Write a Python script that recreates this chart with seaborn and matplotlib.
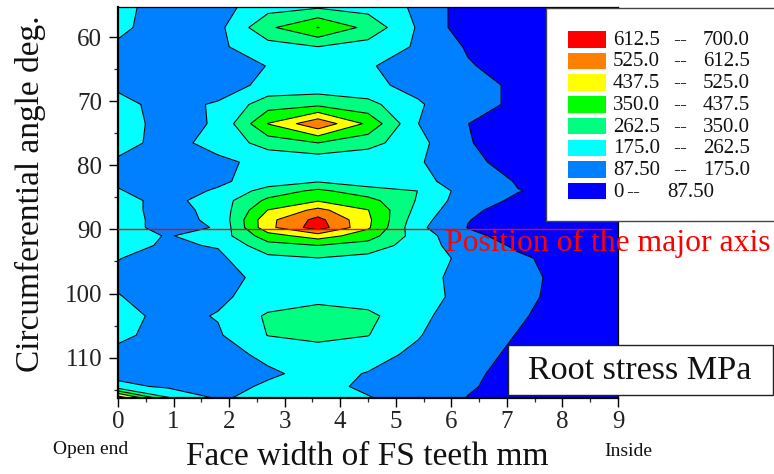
import numpy as np
import matplotlib
matplotlib.use("Agg")
import matplotlib.pyplot as plt
import seaborn as sns
from matplotlib.patches import Rectangle
from matplotlib.ticker import MultipleLocator

# ---------------- data ----------------
face_width = [0.0, 0.9, 1.8, 2.7, 3.6, 4.5, 5.4, 6.3, 7.2, 8.1, 9.0]
angle = [55.3, 58.5, 61.5, 64.5, 67.5, 70.5, 73.5, 76.5, 79.5, 82.5, 84.0,
         85.5, 87.0, 88.5, 89.7, 91.0, 92.5, 94.5, 97.5, 100.5, 103.5,
         106.5, 109.5, 112.5, 114.5, 116.3]
# root stress [MPa], one row per circumferential angle, one column per face width
stress = [
    [200, 135, 140, 230, 251, 230, 160, 39, 30, 25, 20],
    [190, 140, 150, 333, 440, 324, 165, 36, 30, 25, 20],
    [165, 125, 160, 227, 262, 227, 165, 78, 40, 30, 20],
    [140, 115, 120, 178, 210, 182, 140, 95, 50, 35, 25],
    [160, 120, 130, 200, 205, 195, 150, 110, 76, 45, 30],
    [200, 145, 185, 310, 330, 290, 185, 110, 76, 45, 30],
    [205, 150, 182, 440, 590, 419, 176, 88, 50, 35, 25],
    [200, 150, 200, 300, 350, 295, 200, 92, 50, 35, 25],
    [165, 130, 160, 195, 200, 195, 185, 105, 60, 40, 25],
    [165, 135, 160, 215, 255, 215, 190, 150, 80, 50, 30],
    [180, 140, 185, 300, 370, 300, 262, 131, 90, 65, 35],
    [200, 150, 215, 370, 430, 380, 255, 120, 75, 50, 30],
    [205, 145, 200, 440, 550, 440, 235, 100, 60, 40, 25],
    [205, 150, 190, 500, 640, 455, 210, 90, 50, 35, 25],
    [205, 150, 180, 500, 660, 450, 195, 85, 50, 35, 25],
    [210, 170, 210, 400, 480, 390, 220, 105, 60, 40, 25],
    [200, 165, 180, 320, 350, 315, 215, 130, 75, 45, 30],
    [178, 140, 160, 240, 260, 235, 205, 160, 100, 60, 35],
    [155, 125, 145, 200, 220, 210, 200, 150, 105, 70, 40],
    [180, 130, 160, 210, 224, 215, 205, 150, 105, 65, 35],
    [205, 150, 180, 275, 320, 285, 190, 140, 95, 60, 35],
    [195, 140, 165, 265, 290, 265, 180, 120, 85, 50, 30],
    [150, 130, 150, 190, 215, 200, 160, 110, 75, 45, 30],
    [145, 140, 135, 165, 195, 172, 140, 100, 65, 40, 25],
    [200, 160, 150, 185, 200, 160, 130, 95, 60, 40, 25],
    [590, 270, 165, 200, 210, 180, 140, 85, 55, 35, 25],
]
levels = [0, 87.5, 175, 262.5, 350, 437.5, 525, 612.5, 700]
level_colors = ['#0000FF', '#0080FF', '#00FFFF', '#00FF80',
                '#00FF00', '#FFFF00', '#FF8000', '#FF0000']
legend_low = ["0", "87.50", "175.0", "262.5", "350.0", "437.5", "525.0", "612.5"]
legend_high = ["87.50", "175.0", "262.5", "350.0", "437.5", "525.0", "612.5", "700.0"]
x_ticks = [0, 1, 2, 3, 4, 5, 6, 7, 8, 9]
y_ticks = [60, 70, 80, 90, 100, 110]
major_axis_angle = 90
major_axis_x = [0.0, 8.88]

# ---------------- style ----------------
sns.set_theme(style="ticks")
plt.rcParams['font.family'] = ['Liberation Serif', 'DejaVu Serif']
plt.rcParams['text.color'] = '#111111'

W, H = 774, 474
fig = plt.figure(figsize=(W / 100, H / 100), dpi=100)
fig.patch.set_facecolor('white')


def fx(px):
    return px / W


def fy(py):
    return 1 - py / H


ax_l, ax_r, ax_t, ax_b = 118, 618, 7, 398
ax = fig.add_axes([fx(ax_l), fy(ax_b), (ax_r - ax_l) / W, (ax_b - ax_t) / H])
ax.set_facecolor('white')

Z = np.array(stress, dtype=float)
ax.contourf(face_width, angle, Z, levels=levels, colors=level_colors,
            antialiased=True)
ax.contour(face_width, angle, Z, levels=levels[1:-1], colors='black',
           linewidths=0.75)

# major axis line
sns.lineplot(x=major_axis_x, y=[major_axis_angle] * 2, color='#FF0000',
             linewidth=1.0, ax=ax, legend=False, zorder=6)

ax.set_xlim(0, 9)
ax.set_ylim(116.3, 55.3)
ax.set_xticks(x_ticks)
ax.set_yticks(y_ticks)
ax.xaxis.set_minor_locator(MultipleLocator(0.5))
ax.yaxis.set_minor_locator(MultipleLocator(5))
ax.tick_params(which='major', direction='out', length=6.5, width=1.0,
               labelsize=18, colors='black')
ax.tick_params(axis='x', which='major', pad=3.2)
ax.tick_params(axis='y', which='major', pad=5.0)
ax.tick_params(which='minor', direction='out', length=3, width=0.9)
for lab in ax.get_xticklabels() + ax.get_yticklabels():
    lab.set_color('#222222')
ax.set_xlabel('')
ax.set_ylabel('')
for side in ['left', 'bottom']:
    ax.spines[side].set_linewidth(1.6)
for side in ['top', 'right']:
    ax.spines[side].set_linewidth(0.9)
for s in ax.spines.values():
    s.set_color('black')
    s.set_zorder(5)

# axis titles
fig.text(fx(30), fy(194), 'Circumferential angle deg.', rotation=90,
         ha='center', va='center', fontsize=24)
fig.text(fx(367), fy(465), 'Face width of FS teeth mm', ha='center',
         va='baseline', fontsize=24)
fig.text(fx(91), fy(449), 'Open end', ha='center', va='center', fontsize=14)
fig.text(fx(628), fy(451), 'Inside', ha='center', va='center', fontsize=14)

# red annotation
fig.text(fx(445), fy(243), 'Position of the major axis', ha='left',
         va='center', fontsize=22.8, color='#FF0000', zorder=10)

# legend box
fig.patches.append(Rectangle((fx(546), fy(221)), (790 - 546) / W, (221 - 8) / H,
                             transform=fig.transFigure, facecolor='white',
                             edgecolor='#444444', linewidth=1.0, zorder=3))
top0, step, ph = 31, 21.7, 16.5
lfs = 15
for i in range(8):
    k = 7 - i
    y_top = top0 + i * step
    fig.patches.append(Rectangle((fx(568), fy(y_top + ph)), 38 / W, ph / H,
                                 transform=fig.transFigure,
                                 facecolor=level_colors[k], edgecolor='none',
                                 zorder=4))
    yc = fy(y_top + ph / 2 + 1)
    if k == 0:
        dash_x, high_x = 626, 667
    else:
        dash_x, high_x = 673, 703
    fig.text(fx(613), yc, legend_low[k], ha='left', va='center',
             fontsize=lfs, zorder=5)
    fig.text(fx(dash_x), yc, '--', ha='left', va='center', fontsize=lfs,
             family=['DejaVu Serif'], zorder=5, color='#333333')
    fig.text(fx(high_x), yc, legend_high[k], ha='left', va='center',
             fontsize=lfs, zorder=5)

# "Root stress MPa" box
fig.patches.append(Rectangle((fx(508), fy(395)), (773 - 508) / W, (395 - 345) / H,
                             transform=fig.transFigure, facecolor='white',
                             edgecolor='#222222', linewidth=1.0, zorder=3))
fig.text(fx(528), fy(371), 'Root stress MPa', ha='left', va='center',
         fontsize=24.6, zorder=5)

fig.savefig('out.png', dpi=100, facecolor='white')
